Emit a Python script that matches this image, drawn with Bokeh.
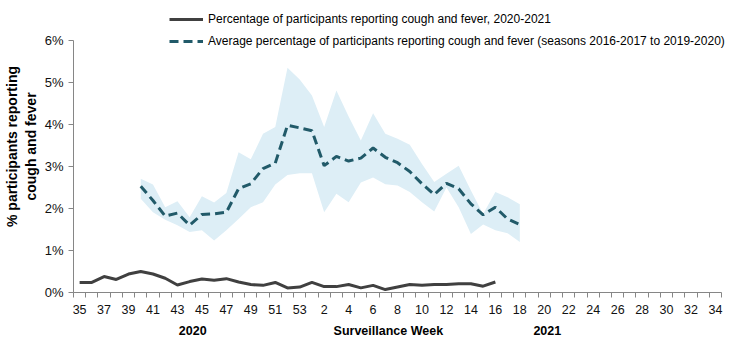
from bokeh.plotting import figure
from bokeh.models import Range1d, FixedTicker, PrintfTickFormatter, Legend, LegendItem, LinearAxis
from bokeh.embed import file_html
from bokeh.resources import INLINE

# Surveillance weeks (2020 weeks 35-53, then 2021 weeks 1-34)
weeks = list(range(35, 54)) + list(range(1, 35))

# Percentage of participants reporting cough and fever, 2020-2021 (weeks 35..16)
current_pct = [0.24, 0.24, 0.38, 0.31, 0.44, 0.50, 0.44, 0.34, 0.18, 0.26,
               0.32, 0.29, 0.33, 0.25, 0.19, 0.17, 0.24, 0.11, 0.13, 0.24,
               0.14, 0.14, 0.19, 0.11, 0.17, 0.07, 0.13, 0.19, 0.17, 0.19,
               0.19, 0.21, 0.21, 0.15, 0.25]

# Average of seasons 2016-2017 to 2019-2020 (weeks 40..18) with its range
avg_pct = [2.53, 2.19, 1.82, 1.89, 1.60, 1.86, 1.87, 1.91, 2.47, 2.59,
           2.95, 3.08, 3.98, 3.92, 3.85, 3.02, 3.24, 3.13, 3.20, 3.44,
           3.22, 3.09, 2.88, 2.59, 2.33, 2.60, 2.47, 2.11, 1.85, 2.03,
           1.75, 1.62]
upper_pct = [2.71, 2.57, 2.03, 2.17, 1.79, 2.29, 2.14, 2.37, 3.34, 3.17,
             3.78, 3.94, 5.35, 5.07, 4.69, 3.94, 4.81, 4.19, 3.62, 4.27,
             3.78, 3.66, 3.52, 3.06, 2.63, 2.83, 3.02, 2.43, 1.87, 2.39,
             2.27, 2.10]
lower_pct = [2.23, 1.91, 1.73, 1.60, 1.44, 1.48, 1.24, 1.48, 1.75, 2.03,
             2.15, 2.57, 2.80, 2.84, 2.84, 1.91, 2.35, 2.15, 2.62, 2.74,
             2.58, 2.55, 2.39, 2.15, 1.93, 2.50, 2.03, 1.39, 1.62, 1.48,
             1.41, 1.20]

y_ticks = [0, 1, 2, 3, 4, 5, 6]
year_labels = ["2020", "2021"]
x_title = "Surveillance Week"
y_title = "% participants reporting\ncough and fever"
legend_labels = ["Percentage of participants reporting cough and fever, 2020-2021",
                 "Average percentage of participants reporting cough and fever (seasons 2016-2017 to 2019-2020)"]

# category centre positions (two units per week)
n_units = 2 * len(weeks)
xpos = [2 * i + 1 for i in range(len(weeks))]
cur_x = xpos[:len(current_pct)]
avg_start = weeks.index(40)
avg_x = xpos[avg_start:avg_start + len(avg_pct)]

FONT = "Liberation Sans"
AXIS_COLOR = "#868686"

# frame spans the full height above the x axis (6% sits 40 px below the top)
# and runs to the right edge so the legend text is not clipped
y_top = 292.0 / 42.0
x_end = n_units * 669.0 / 651.0

p = figure(width=739, height=342, output_backend="svg", toolbar_location=None,
           x_range=Range1d(0, x_end), y_range=Range1d(0, y_top),
           min_border_left=70, min_border_right=0, min_border_top=0, min_border_bottom=50)
p.outline_line_color = None
p.xgrid.visible = False
p.ygrid.visible = False

band = p.varea(x=avg_x, y1=lower_pct, y2=upper_pct, fill_color="#DDEEF6")
r_cur = p.line(cur_x, current_pct, line_color="#404040", line_width=3)
r_avg = p.line(avg_x, avg_pct, line_color="#215A69", line_width=3, line_dash="9 5")

# x axis: labels centred on every other week, ticks at category boundaries
xa = p.xaxis[0]
major = [xpos[i] for i in range(0, len(weeks), 2)]
xa.ticker = FixedTicker(ticks=major, minor_ticks=list(range(0, n_units + 1, 2)))
xa.bounds = (0, n_units)
xa.major_label_overrides = {xpos[i]: str(weeks[i]) for i in range(0, len(weeks), 2)}
xa.major_tick_out = 0
xa.major_tick_in = 0
xa.minor_tick_out = 5
xa.minor_tick_in = 0
xa.minor_tick_line_color = AXIS_COLOR
xa.axis_line_color = AXIS_COLOR
xa.major_label_standoff = 7
xa.major_label_text_font = FONT
xa.major_label_text_font_size = "12.5px"
xa.major_label_text_color = "#111111"

# second row under the week numbers: years and the axis title
year_axis = LinearAxis(ticker=FixedTicker(ticks=[19.5, 51.5, 77.5]),
                       major_label_overrides={19.5: year_labels[0], 51.5: x_title, 77.5: year_labels[1]})
year_axis.axis_line_color = None
year_axis.major_tick_line_color = None
year_axis.minor_tick_line_color = None
year_axis.major_tick_out = 0
year_axis.major_tick_in = 0
year_axis.major_label_standoff = 7
year_axis.major_label_text_font = FONT
year_axis.major_label_text_font_size = "12.5px"
year_axis.major_label_text_font_style = "bold"
year_axis.major_label_text_color = "#000000"
p.add_layout(year_axis, "below")

ya = p.yaxis[0]
ya.ticker = FixedTicker(ticks=y_ticks)
ya.bounds = (0, 6)
ya.formatter = PrintfTickFormatter(format="%d%%")
ya.major_tick_out = 5
ya.major_tick_in = 0
ya.minor_tick_line_color = None
ya.major_tick_line_color = AXIS_COLOR
ya.axis_line_color = AXIS_COLOR
ya.major_label_standoff = 5
ya.major_label_text_font = FONT
ya.major_label_text_font_size = "13px"
ya.major_label_text_color = "#111111"
ya.axis_label = y_title
ya.axis_label_standoff = 3
ya.axis_label_text_font = FONT
ya.axis_label_text_font_size = "14px"
ya.axis_label_text_font_style = "bold"
ya.axis_label_text_color = "#000000"

legend = Legend(items=[LegendItem(label=legend_labels[0], renderers=[r_cur]),
                       LegendItem(label=legend_labels[1], renderers=[r_avg])],
                location=(96, 241), orientation="vertical")
legend.background_fill_alpha = 0
legend.border_line_color = None
legend.padding = 0
legend.margin = 0
legend.spacing = 2
legend.glyph_width = 34
legend.glyph_height = 20
legend.label_height = 20
legend.label_standoff = 5
legend.label_text_font = FONT
legend.label_text_font_size = "12px"
legend.label_text_color = "#000000"
p.add_layout(legend, "center")

open("out.html", "w").write(file_html(p, INLINE))
